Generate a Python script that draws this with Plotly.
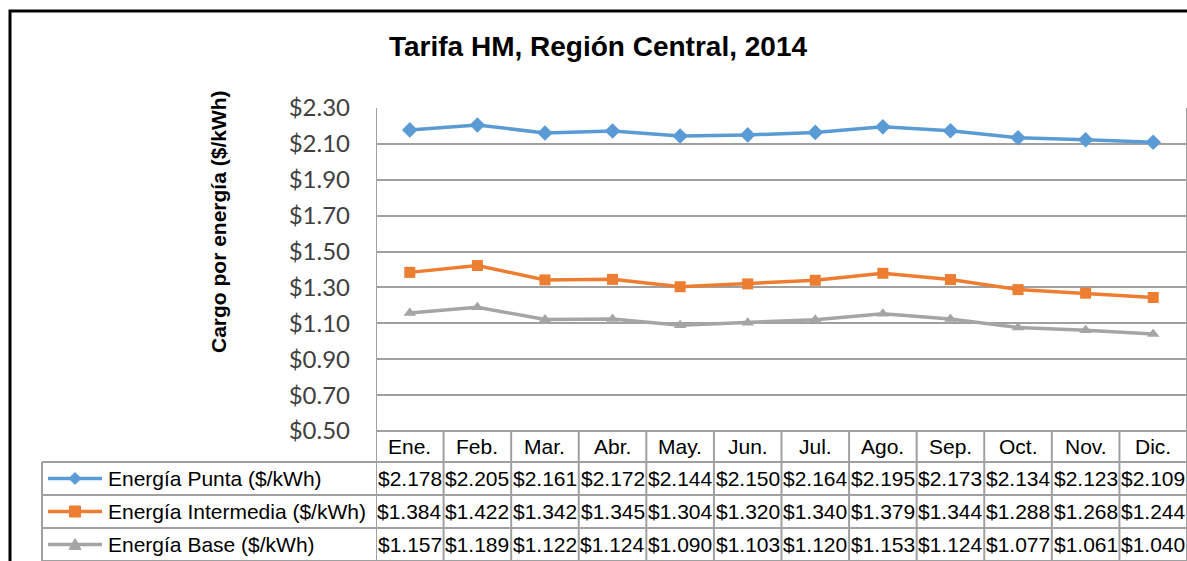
import plotly.graph_objects as go

OFF = 0
W, H = 1187, 561

months = ["Ene.", "Feb.", "Mar.", "Abr.", "May.", "Jun.", "Jul.", "Ago.", "Sep.", "Oct.", "Nov.", "Dic."]
punta = [2.178, 2.205, 2.161, 2.172, 2.144, 2.150, 2.164, 2.195, 2.173, 2.134, 2.123, 2.109]
intermedia = [1.384, 1.422, 1.342, 1.345, 1.304, 1.320, 1.340, 1.379, 1.344, 1.288, 1.268, 1.244]
base = [1.157, 1.189, 1.122, 1.124, 1.090, 1.103, 1.120, 1.153, 1.124, 1.077, 1.061, 1.040]
series_names = ["Energía Punta ($/kWh)", "Energía Intermedia ($/kWh)", "Energía Base ($/kWh)"]
series_vals = [punta, intermedia, base]
colors = ["#5b9bd5", "#ed7d31", "#a5a5a5"]
symbols = ["diamond", "square", "triangle-up"]
msizes = [12, 11, 11]
title = "Tarifa HM, Región Central, 2014"
ytitle = "Cargo por energía ($/kWh)"


def px(x):
    return (x - OFF) / W


def py(y):
    return 1 - (y - OFF) / H


PLOT_L, PLOT_R, PLOT_T, PLOT_B = 376, 1188, 108, 431
ROW_Y = [431, 462, 495, 528, 561]
TAB_L = 42
GRID = "#a0a0a0"

fig = go.Figure()
for name, vals, c, s, ms in zip(series_names, series_vals, colors, symbols, msizes):
    fig.add_trace(go.Scatter(
        x=months, y=vals, name=name, mode="lines+markers",
        line=dict(color=c, width=3.5),
        marker=dict(symbol=s, size=ms, color=c),
        showlegend=False, cliponaxis=False,
    ))

shapes = []
# outer frame
shapes.append(dict(type="rect", xref="paper", yref="paper", x0=px(10), x1=px(1250), y0=py(11), y1=py(620),
                   line=dict(color="black", width=3), layer="above"))
# table horizontal lines
shapes.append(dict(type="line", xref="paper", yref="paper", x0=px(PLOT_L), x1=px(PLOT_R), y0=py(ROW_Y[0]), y1=py(ROW_Y[0]),
                   line=dict(color=GRID, width=2)))
for yy in ROW_Y[1:]:
    shapes.append(dict(type="line", xref="paper", yref="paper", x0=px(TAB_L), x1=px(PLOT_R), y0=py(yy), y1=py(yy),
                       line=dict(color=GRID, width=2)))
# left line of legend column
shapes.append(dict(type="line", xref="paper", yref="paper", x0=px(TAB_L), x1=px(TAB_L), y0=py(ROW_Y[1]), y1=py(ROW_Y[-1]),
                   line=dict(color=GRID, width=2)))
# column separators
for i in range(len(months) + 1):
    y_top = PLOT_T if i in (0, len(months)) else ROW_Y[0]
    shapes.append(dict(type="line", xref="x", yref="paper", x0=i - 0.5, x1=i - 0.5, y0=py(y_top), y1=py(ROW_Y[-1]),
                       line=dict(color=GRID, width=2)))

annotations = []
annotations.append(dict(text="<b>" + title + "</b>", xref="paper", yref="paper", x=px(598), y=py(47),
                        showarrow=False, font=dict(family="Liberation Sans, Arial", size=28, color="black"),
                        xanchor="center", yanchor="middle"))
annotations.append(dict(text="<b>" + ytitle + "</b>", xref="paper", yref="paper", x=px(218), y=py(222),
                        textangle=-90, showarrow=False,
                        font=dict(family="Liberation Sans, Arial", size=21, color="black"),
                        xanchor="center", yanchor="middle"))
TFONT = dict(family="Liberation Sans, Arial", size=21, color="black")
hdr_y = (ROW_Y[0] + ROW_Y[1]) / 2
for m in months:
    annotations.append(dict(text=m, xref="x", yref="paper", x=m, y=py(hdr_y), showarrow=False, font=TFONT,
                            xanchor="center", yanchor="middle"))
for r, (name, vals, c, s) in enumerate(zip(series_names, series_vals, colors, symbols)):
    yc = (ROW_Y[r + 1] + ROW_Y[r + 2]) / 2
    annotations.append(dict(text=name, xref="paper", yref="paper", x=px(106), y=py(yc), showarrow=False, font=TFONT,
                            xanchor="left", yanchor="middle"))
    for m, v in zip(months, vals):
        annotations.append(dict(text=f"${v:.3f}", xref="x", yref="paper", x=m, y=py(yc), showarrow=False,
                                font=TFONT, xanchor="center", yanchor="middle"))
    shapes.append(dict(type="line", xref="paper", yref="paper", x0=px(48), x1=px(102), y0=py(yc), y1=py(yc),
                       line=dict(color=c, width=3.5)))
    cx, cy = 75, yc
    if s == "diamond":
        path = f"M {px(cx-6)},{py(cy)} L {px(cx)},{py(cy-6)} L {px(cx+6)},{py(cy)} L {px(cx)},{py(cy+6)} Z"
        shapes.append(dict(type="path", xref="paper", yref="paper", path=path, fillcolor=c, line=dict(color=c, width=1)))
    elif s == "square":
        shapes.append(dict(type="rect", xref="paper", yref="paper", x0=px(cx-5.5), x1=px(cx+5.5), y0=py(cy-5.5), y1=py(cy+5.5),
                           fillcolor=c, line=dict(color=c, width=1)))
    else:
        path = f"M {px(cx-6)},{py(cy+5)} L {px(cx)},{py(cy-6)} L {px(cx+6)},{py(cy+5)} Z"
        shapes.append(dict(type="path", xref="paper", yref="paper", path=path, fillcolor=c, line=dict(color=c, width=1)))

fig.update_layout(
    width=W, height=H,
    margin=dict(l=0, r=0, t=0, b=0, autoexpand=False),
    paper_bgcolor="white", plot_bgcolor="white",
    xaxis=dict(domain=[px(PLOT_L), min(1.0, px(PLOT_R))], type="category", range=[-0.5, len(months) - 0.5],
               showticklabels=False, showgrid=False, zeroline=False, showline=False, automargin=False),
    yaxis=dict(domain=[py(PLOT_B), py(PLOT_T)], range=[0.5, 2.3], tick0=0.5, dtick=0.2,
               tickprefix="$", tickformat=".2f", showgrid=True, gridcolor=GRID, gridwidth=1.5,
               zeroline=False, showline=False, ticks="", ticklabelstandoff=25, automargin=False,
               tickfont=dict(family="Lato", size=24, color="#404040")),
    shapes=shapes, annotations=annotations,
    showlegend=False,
)

fig.write_html(
    "out.html",
    config={"displayModeBar": False},
    post_script="document.body.style.margin='0';document.body.style.overflow='hidden';",
)
